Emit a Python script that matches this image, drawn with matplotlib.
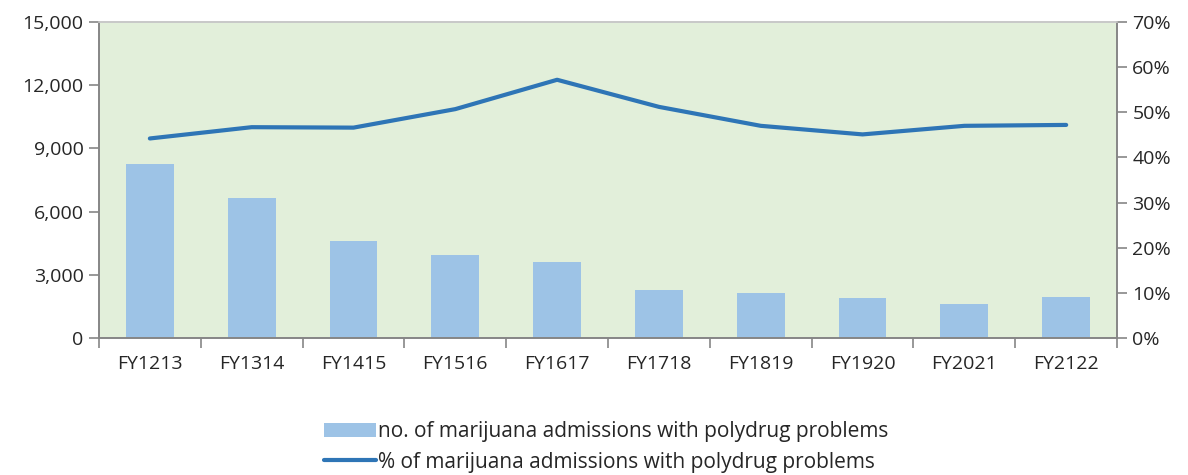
import matplotlib.pyplot as plt
import numpy as np
from matplotlib.ticker import FuncFormatter

years = ["FY1213", "FY1314", "FY1415", "FY1516", "FY1617",
         "FY1718", "FY1819", "FY1920", "FY2021", "FY2122"]
admissions = [8250, 6630, 4620, 3940, 3610, 2260, 2160, 1910, 1630, 1930]
pct_polydrug = [44.2, 46.7, 46.6, 50.7, 57.2, 51.2, 47.0, 45.1, 47.0, 47.2]

BAR_COLOR = "#9DC3E6"
LINE_COLOR = "#2E75B6"
BG_COLOR = "#E2EFDA"
AXIS_COLOR = "#868686"
TEXT_COLOR = "#262626"
FS = 14

plt.rcParams['font.family'] = ['Open Sans', 'DejaVu Sans']

fig = plt.figure(figsize=(11.88, 4.75), dpi=100)
ax = fig.add_axes([0.0833, 0.2884, 0.8570, 0.6653])
ax.set_facecolor(BG_COLOR)

x = np.arange(len(years))
bars = ax.bar(x, admissions, width=0.47, color=BAR_COLOR, zorder=2,
              label="no. of marijuana admissions with polydrug problems")
ax.set_xlim(-0.5, len(years) - 0.5)
ax.set_ylim(0, 15000)
ax.set_yticks(np.arange(0, 15001, 3000))
ax.yaxis.set_major_formatter(FuncFormatter(lambda v, p: f"{int(v):,}"))

# category ticks sit between the groups, labels at centres
ax.set_xticks(np.arange(-0.5, len(years), 1.0))
ax.set_xticklabels([])
ax.set_xticks(x, minor=True)
ax.set_xticklabels(years, minor=True)
ax.tick_params(axis='x', which='major', length=7, width=1.2, color=AXIS_COLOR)
ax.tick_params(axis='x', which='minor', length=0, pad=12, labelsize=FS, labelcolor=TEXT_COLOR)
ax.tick_params(axis='y', length=7, width=1.2, color=AXIS_COLOR, labelsize=FS,
               labelcolor=TEXT_COLOR, pad=4)

ax2 = ax.twinx()
line, = ax2.plot(x, pct_polydrug, color=LINE_COLOR, lw=3, solid_capstyle='round',
                 label="% of marijuana admissions with polydrug problems", zorder=3)
ax2.set_ylim(0, 70)
ax2.set_yticks(np.arange(0, 71, 10))
ax2.yaxis.set_major_formatter(FuncFormatter(lambda v, p: f"{int(v)}%"))
ax2.tick_params(axis='y', length=7, width=1.2, color=AXIS_COLOR, labelsize=FS,
                labelcolor=TEXT_COLOR, pad=4)

for a in (ax, ax2):
    for s in a.spines.values():
        s.set_color(AXIS_COLOR)
        s.set_linewidth(1.2)
ax.spines['top'].set_color("#c8c8c8")
ax2.spines['top'].set_color("#c8c8c8")

fig.legend(handles=[bars, line], loc='center', bbox_to_anchor=(0.51, 0.059),
           ncol=1, frameon=False, fontsize=15, handlelength=2.5,
           handletextpad=0.1, labelspacing=0.45, labelcolor=TEXT_COLOR)

fig.savefig("out.png", dpi=100)
